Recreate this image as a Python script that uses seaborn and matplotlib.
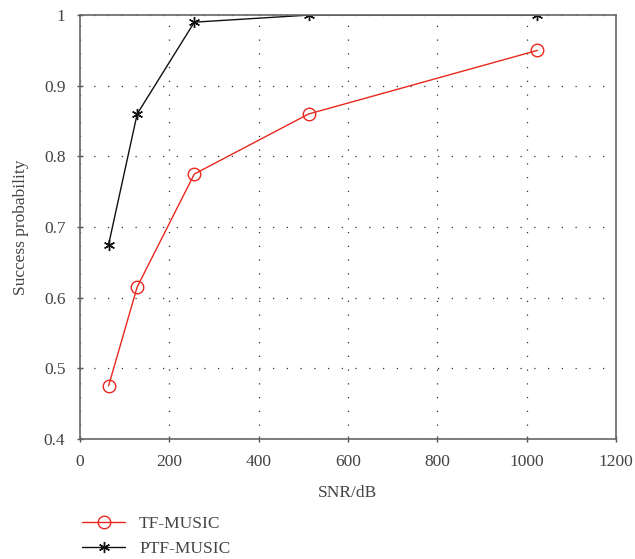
import matplotlib
matplotlib.use('Agg')
import matplotlib.pyplot as plt
import numpy as np
import pandas as pd
import seaborn as sns
from matplotlib.ticker import FuncFormatter

# Dane
snr = [64, 128, 256, 512, 1024]
tf_music = [0.475, 0.615, 0.775, 0.86, 0.95]
ptf_music = [0.675, 0.86, 0.99, 1.0, 1.0]
series_names = ['TF-MUSIC', 'PTF-MUSIC']

df = pd.DataFrame({
    'snr': snr * 2,
    'p': tf_music + ptf_music,
    'method': [series_names[0]] * len(snr) + [series_names[1]] * len(snr),
})

sns.set_style('white')
plt.rcParams['font.family'] = ['Liberation Serif', 'DejaVu Serif']
text_col = '#444444'

fig = plt.figure(figsize=(6.35, 5.59), dpi=100)
ax = fig.add_axes([0.126, 0.215, 0.844, 0.758])

styles = {
    'TF-MUSIC': dict(color='#e8281e', marker='o', markersize=9, markerfacecolor='none',
                     markeredgecolor='#e8281e', markeredgewidth=1.0),
    'PTF-MUSIC': dict(color='#111111', marker=(6, 2, 0), markersize=8,
                      markeredgecolor='#111111', markeredgewidth=1.0),
}
for name in series_names:
    sub = df[df['method'] == name]
    sns.lineplot(data=sub, x='snr', y='p', ax=ax, label=name, linewidth=1.0, **styles[name])

ax.set_xlim(0, 1200)
ax.set_ylim(0.4, 1.0)
ax.set_xticks(np.arange(0, 1201, 200))
ax.set_yticks(np.arange(0.4, 1.01, 0.1))
ax.yaxis.set_major_formatter(FuncFormatter(lambda v, _: f'{v:g}'))
ax.grid(True, linestyle=(0, (1, 10)), color='#333333', lw=0.9)
ax.tick_params(direction='inout', length=5, width=1, colors='#555555', labelcolor=text_col,
               labelsize=12.5, top=False, right=False, bottom=True, left=True)
ax.tick_params(axis='x', pad=8.5)
ax.tick_params(axis='y', pad=8)
for s in ax.spines.values():
    s.set_color('#666666')
    s.set_linewidth(1.2)

ax.set_xlabel('SNR/dB', fontsize=12.5, color=text_col, labelpad=11)
ax.set_ylabel('Success probability', fontsize=12.5, color=text_col, labelpad=11)

handles, labels = ax.get_legend_handles_labels()
ax.get_legend().remove()
fig.legend(handles, labels, loc='upper left', bbox_to_anchor=(0.118, 0.09), frameon=False,
           fontsize=12.5, labelcolor=text_col, handlelength=2.5, handletextpad=0.8,
           borderaxespad=0, labelspacing=0.5)

fig.savefig('out.png', dpi=100)
